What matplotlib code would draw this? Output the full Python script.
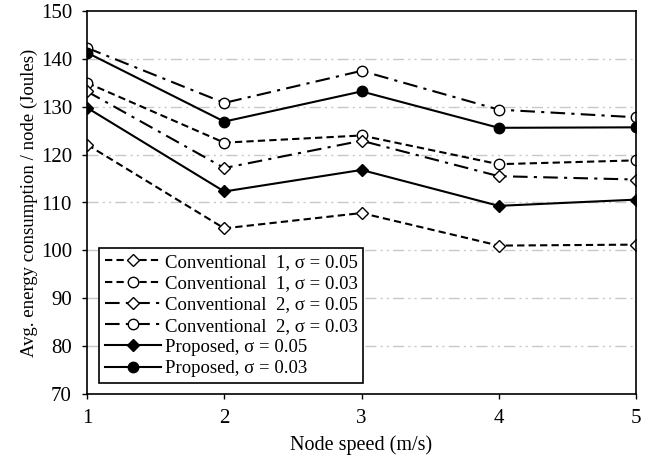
import numpy as np
import matplotlib.pyplot as plt

plt.rcParams['font.family'] = ['Liberation Serif', 'DejaVu Serif']

speed = [1, 2, 3, 4, 5]  # velocidad del nodo (m/s)

conv1_005 = [122.1, 104.6, 107.8, 101.0, 101.2]
conv1_003 = [135.0, 122.5, 124.0, 118.0, 118.8]
conv2_005 = [133.2, 117.2, 122.9, 115.5, 114.8]
conv2_003 = [142.3, 130.8, 137.5, 129.4, 127.8]
prop_005 = [129.8, 112.3, 116.8, 109.3, 110.6]
prop_003 = [141.3, 126.9, 133.2, 125.6, 125.7]

labels = ['Conventional  1, σ = 0.05', 'Conventional  1, σ = 0.03',
          'Conventional  2, σ = 0.05', 'Conventional  2, σ = 0.03',
          'Proposed, σ = 0.05', 'Proposed, σ = 0.03']

fig = plt.figure(figsize=(6.61, 4.61), dpi=100)
ax = fig.add_axes([87 / 661, 1 - 394 / 461, (636 - 87) / 661, (394 - 11) / 461])

dash = (0, (3.5, 2))
dashdot = (0, (7, 3, 1.5, 3))

ax.plot(speed, conv1_005, color='black', lw=1.5, ls=dash, marker='D', ms=6,
        mfc='white', mec='black', mew=1, label=labels[0])
ax.plot(speed, conv1_003, color='black', lw=1.5, ls=dash, marker='o', ms=7.5,
        mfc='white', mec='black', mew=1, label=labels[1])
ax.plot(speed, conv2_005, color='black', lw=1.5, ls=dashdot, marker='D', ms=6,
        mfc='white', mec='black', mew=1, label=labels[2])
ax.plot(speed, conv2_003, color='black', lw=1.5, ls=dashdot, marker='o', ms=7.5,
        mfc='white', mec='black', mew=1, label=labels[3])
ax.plot(speed, prop_005, color='black', lw=1.5, ls='-', marker='D', ms=6,
        mfc='black', mec='black', label=labels[4])
ax.plot(speed, prop_003, color='black', lw=1.5, ls='-', marker='o', ms=7.5,
        mfc='black', mec='black', label=labels[5])

ax.set_xlim(1, 5)
ax.set_ylim(70, 150)
ax.set_xticks(speed)
ax.set_yticks(np.arange(70, 151, 10))
for y in range(80, 150, 10):
    ax.axhline(y, color='#c8c8c8', lw=1, ls=(0, (8, 3, 1.5, 3, 1.5, 3)), zorder=0)

ax.tick_params(labelsize=15, direction='out', length=3.8, width=1, color='black', pad=7)
for s in ax.spines.values():
    s.set_linewidth(1.2)

ax.set_xlabel('Node speed (m/s)', fontsize=14.5, labelpad=5)
ax.set_ylabel('Avg. energy consumption / node (Joules)', fontsize=13.5, labelpad=2)

leg = ax.legend(loc='lower left', bbox_to_anchor=(0.022, 0.029), fontsize=13.5,
                frameon=True, fancybox=False, edgecolor='black', framealpha=1,
                handlelength=3.0, handletextpad=0.2, labelspacing=0.22,
                borderpad=0.3, borderaxespad=0)
leg.get_frame().set_linewidth(1.2)

plt.savefig('out.png', dpi=100)
